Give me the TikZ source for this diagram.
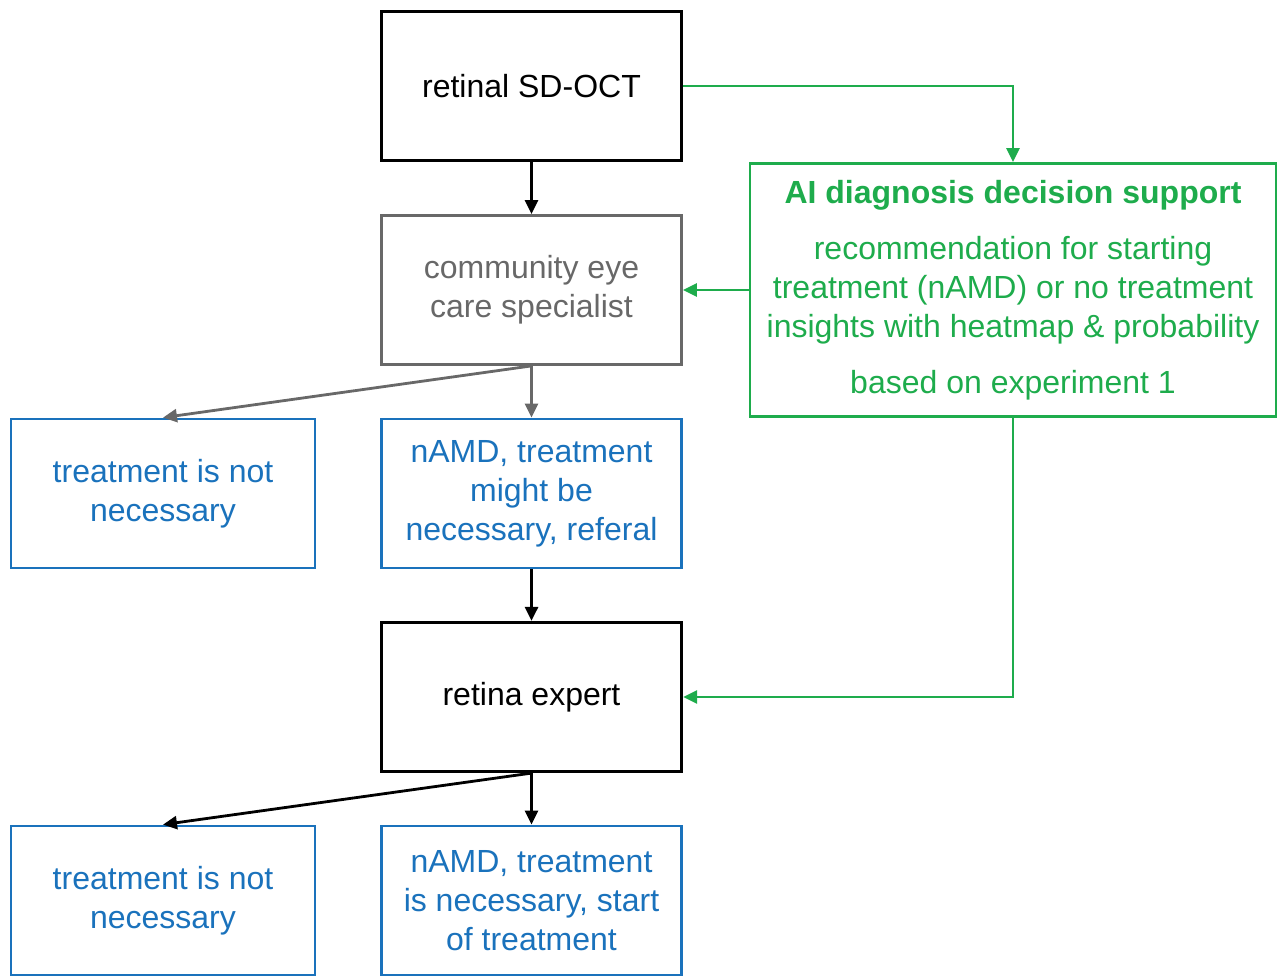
\documentclass[tikz,border=0pt]{standalone}
\usepackage{fontspec}
\setmainfont{Liberation Sans}
\usetikzlibrary{arrows.meta}

\definecolor{aiGreen}{RGB}{30,172,76}
\definecolor{outBlue}{RGB}{26,114,188}
\definecolor{ceGray}{RGB}{104,104,104}

\tikzset{
  flowbox/.style={draw, line width=1.6pt, align=center, inner sep=0pt,
    minimum width=150pt, minimum height=74.5pt,
    font=\fontsize{16}{19.5}\selectfont},
  colbox/.style={flowbox, draw=#1, text=#1, line width=1.4pt},
  flowarrow/.style={line width=1.4pt, -{Triangle[length=7pt,width=6.5pt]}}
}

\begin{document}
\begin{tikzpicture}[x=0.5pt,y=-0.5pt]

    \newcommand*{\xMain}{531.5}%
    \newcommand*{\xSide}{163}%
    \newcommand*{\xAI}{1013}%
    \def\yOCT {86};
    \def\yCES {290};
    \def\yOutA {493.5};
    \def\yExp {697};
    \def\yOutB {900.5};

    \useasboundingbox (0,0) rectangle (1278,978);

    \node[flowbox] (octBox) at (\xMain,\yOCT) {retinal SD-OCT};
    \node[colbox=ceGray] (ceSpec) at (\xMain,\yCES) {community eye\\care specialist};
    \node[colbox=aiGreen, minimum width=263pt, minimum height=126.5pt]
      (aiBox) at (\xAI,\yCES) {\textbf{AI diagnosis decision support}\\[8.5pt]
      recommendation for starting\\treatment (nAMD) or no treatment\\insights with heatmap \& probability\\[8.5pt]
      based on experiment 1};

    \node[colbox=outBlue, minimum width=152pt] (notTreatA) at (\xSide,\yOutA) {treatment is not\\necessary};
    \node[colbox=outBlue] (namdA) at (\xMain,\yOutA) {nAMD, treatment\\might be\\necessary, referal};
    \node[flowbox] (retExpert) at (\xMain,\yExp) {retina expert};
    \node[colbox=outBlue, minimum width=152pt] (notTreatB) at (\xSide,\yOutB) {treatment is not\\necessary};
    \node[colbox=outBlue] (namdB) at (\xMain,\yOutB) {nAMD, treatment\\is necessary, start\\of treatment};

    \draw[flowarrow] (octBox) -- (ceSpec);
    \draw[flowarrow] (namdA) -- (retExpert);

    % AI support feeds both decision makers
    \draw[flowarrow, aiGreen] (octBox.east) -| (aiBox.north);
    \draw[flowarrow, aiGreen] (aiBox.west) -- (ceSpec.east);
    \draw[flowarrow, aiGreen] (aiBox.south) |- (retExpert.east);

    \foreach \src/\dstL/\dstR/\col in {ceSpec/notTreatA/namdA/ceGray, retExpert/notTreatB/namdB/black} {
      \draw[flowarrow, \col] (\src.south) -- (\dstR.north);
      \draw[flowarrow, \col] (\src.south) -- (\dstL.north);
    }
\end{tikzpicture}
\end{document}
